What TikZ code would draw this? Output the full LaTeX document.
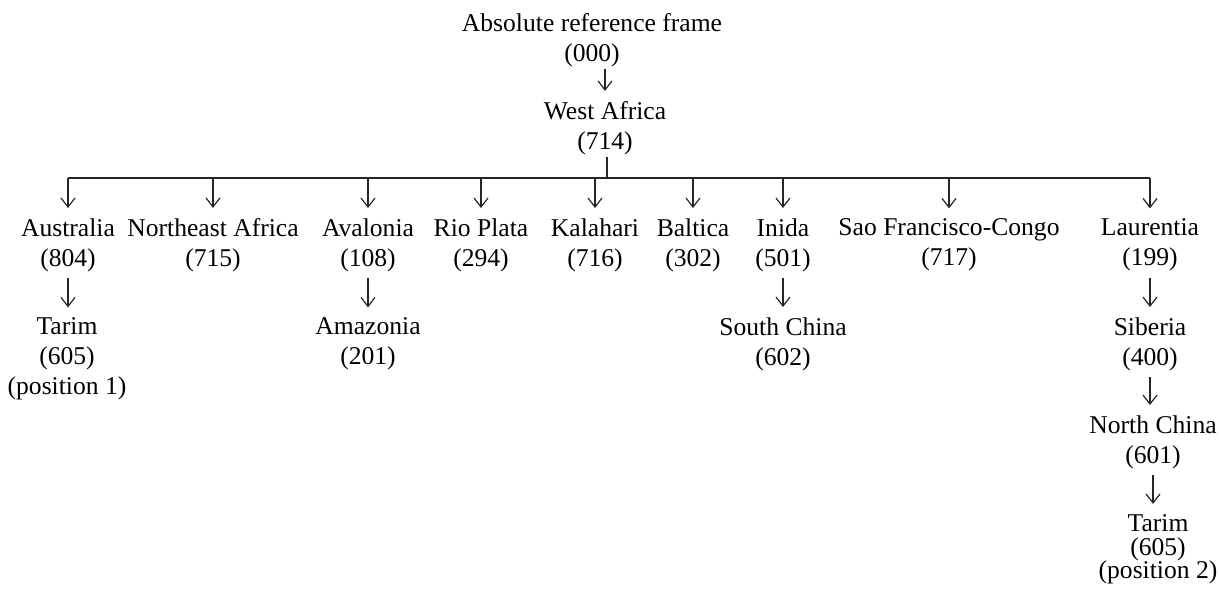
\documentclass[tikz,border=0pt]{standalone}
\usepackage{fontspec}
\setmainfont{Liberation Serif}
\usepackage{tikz}
\usetikzlibrary{positioning,arrows.meta,calc}
\tikzset{
  plate/.style={align=center,inner sep=0pt,text=black,
    font=\fontsize{12.8bp}{15bp}\selectfont},
  plate-arrow/.style={-{Straight Barb[length=4.5bp,width=7bp]},line width=0.6bp,black!85},
  plate-line/.style={line width=0.6bp,black!85},
}

\begin{document}
\begin{tikzpicture}[x=0.5bp,y=-0.5bp]
  \useasboundingbox (0,0) rectangle (1219,591);

  % root and first plate
  \node[plate] (abs) at (592,40) {Absolute reference frame\\(000)};
  \node[plate] (wafr) at (605,128) {West Africa\\(714)};

  % plates fixed to West Africa
  \node[plate] (aus)  at (68,245)   {Australia\\(804)};
  \node[plate] (neaf) at (213,245)  {Northeast Africa\\(715)};
  \node[plate] (aval) at (368,245)  {Avalonia\\(108)};
  \node[plate] (riop) at (481,245)  {Rio Plata\\(294)};
  \node[plate] (kala) at (595,245)  {Kalahari\\(716)};
  \node[plate] (balt) at (693,245)  {Baltica\\(302)};
  \node[plate] (inda) at (783,245)  {Inida\\(501)};
  \node[plate] (sfco) at (949,245)  {Sao Francisco-Congo\\(717)};
  \node[plate] (laur) at (1150,245) {Laurentia\\(199)};

  % second level
  \node[plate] (tar1) at (67,359)   {Tarim\\(605)\\(position 1)};
  \node[plate] (amaz) at (368,344)  {Amazonia\\(201)};
  \node[plate] (schn) at (783,344)  {South China\\(602)};
  \node[plate] (sibr) at (1150,344) {Siberia\\(400)};
  \node[plate] (nchn) at (1153,442) {North China\\(601)};
  \node[plate] (tar2) at (1158,549) {Tarim\\[-3bp](605)\\[-3.5bp](position 2)};

  % edges
  \coordinate (bus) at (607,178);
  \draw[plate-arrow] (abs.south -| wafr) ++(0,2) -- ([yshift=5bp]wafr.north);
  \draw[plate-line] ([yshift=-1bp]wafr.south -| bus) -- (bus);
  \draw[plate-line] (bus -| aus) -- (bus -| laur);
  \foreach \p in {aus,neaf,aval,riop,kala,balt,inda,sfco,laur}
    \draw[plate-arrow] (bus -| \p) -- ([yshift=5bp]\p.north);
  \draw[plate-arrow] ([yshift=-3bp]aus.south) -- ([yshift=5bp]aus.south |- tar1.north);
  \draw[plate-arrow] ([yshift=-3bp]aval.south) -- ([yshift=5bp]aval.south |- amaz.north);
  \draw[plate-arrow] ([yshift=-3bp]inda.south) -- ([yshift=5bp]inda.south |- schn.north);
  \draw[plate-arrow] ([yshift=-3bp]laur.south) -- ([yshift=5bp]laur.south |- sibr.north);
  \draw[plate-arrow] ([yshift=-3bp]sibr.south) -- ([yshift=5bp]sibr.south |- nchn.north);
  \draw[plate-arrow] ([yshift=-3bp]nchn.south) -- ([yshift=5bp]nchn.south |- tar2.north);
\end{tikzpicture}
\end{document}
